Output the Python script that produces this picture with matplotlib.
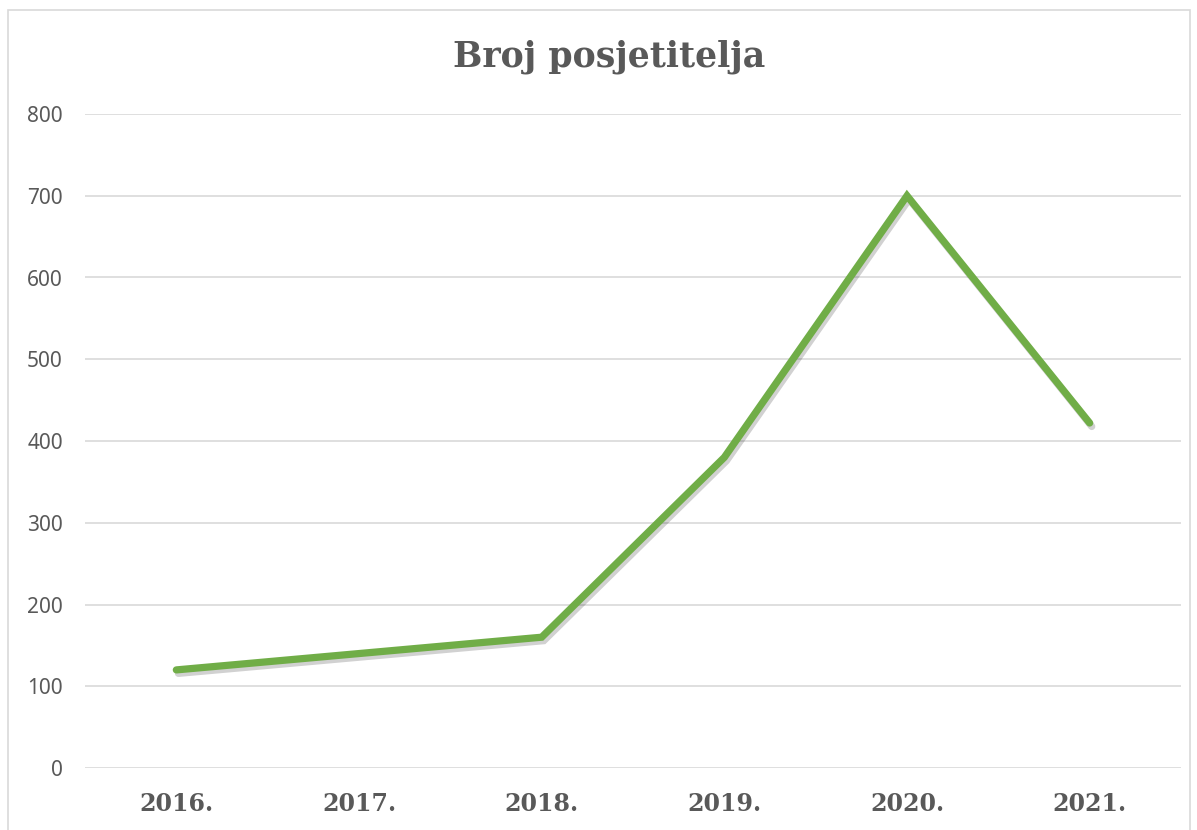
import matplotlib

matplotlib.use("Agg")
from matplotlib import pyplot as plt  # noqa: E402
from matplotlib import patheffects as pe  # noqa: E402
from matplotlib.patches import Rectangle  # noqa: E402

YEARS = ["2016.", "2017.", "2018.", "2019.", "2020.", "2021."]
VISITORS = [120, 140, 160, 380, 700, 422]
Y_TICKS = [0, 100, 200, 300, 400, 500, 600, 700, 800]

TEXT = "#595959"
GRID = "#d9d9d9"
GREEN = "#70ad47"

fig = plt.figure(figsize=(11.97, 8.30), dpi=100)
fig.patches.append(Rectangle((8 / 1197, -0.05), 1182 / 1197, 1 - 10 / 830 + 0.05,
                             transform=fig.transFigure, fill=False,
                             edgecolor=GRID, linewidth=1.2))
ax = fig.add_axes([85 / 1197, 1 - 768 / 830, 1096 / 1197, (768 - 114) / 830])

x = range(len(YEARS))
ax.plot(x, VISITORS, color=GREEN, linewidth=5.2, solid_capstyle="round",
        solid_joinstyle="miter",
        path_effects=[pe.SimpleLineShadow(offset=(1.5, -2.5), shadow_color="black", alpha=0.18),
                      pe.Normal()], zorder=3)

ax.set_xlim(-0.5, len(YEARS) - 0.5)
ax.set_ylim(0, 800)
ax.set_yticks(Y_TICKS)
ax.set_yticklabels([str(v) for v in Y_TICKS], fontsize=15, color=TEXT, family="Noto Sans")
ax.set_xticks(list(x))
ax.set_xticklabels(YEARS, fontsize=17, color=TEXT, family="DejaVu Serif", fontweight="bold")
ax.tick_params(axis="both", length=0)
ax.tick_params(axis="y", pad=16)
ax.tick_params(axis="x", pad=17)
ax.grid(axis="y", color=GRID, linewidth=1.2)
ax.set_axisbelow(True)
for s in ax.spines.values():
    s.set_visible(False)

fig.text(609 / 1197, 1 - 57 / 830, "Broj posjetitelja", ha="center", va="center",
         fontsize=25, fontweight="bold", color=TEXT, family="DejaVu Serif")

fig.savefig("out.png", dpi=100)
